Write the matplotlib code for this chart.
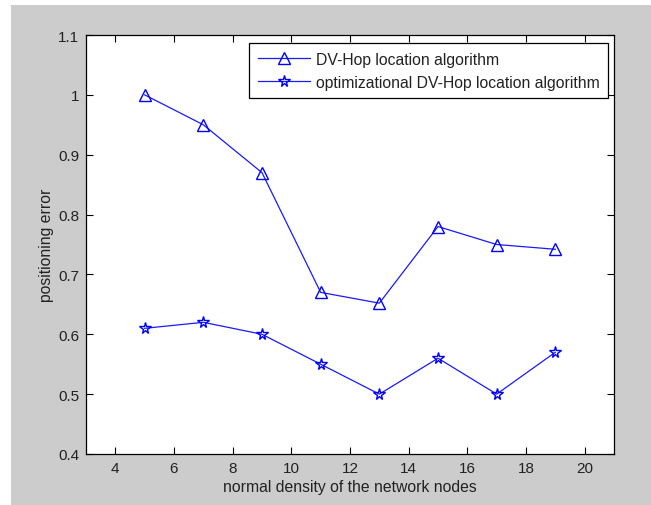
import numpy as np
import matplotlib.pyplot as plt
from matplotlib.patches import Rectangle

plt.rcParams['font.family'] = ['Liberation Sans', 'DejaVu Sans']

density = [5, 7, 9, 11, 13, 15, 17, 19]
dv_hop = [1.00, 0.95, 0.87, 0.67, 0.652, 0.78, 0.75, 0.742]
opt_dv_hop = [0.61, 0.62, 0.60, 0.55, 0.50, 0.56, 0.50, 0.57]
xticks = [4, 6, 8, 10, 12, 14, 16, 18, 20]
yticks = [0.4, 0.5, 0.6, 0.7, 0.8, 0.9, 1.0, 1.1]
ytick_labels = ['0.4', '0.5', '0.6', '0.7', '0.8', '0.9', '1', '1.1']

W, H = 651, 506
fig = plt.figure(figsize=(W / 100, H / 100), dpi=100, facecolor='white')
# matlab style gray figure area (small white margin top/left)
fig.patches.append(Rectangle((11 / W, 0), 1 - 11 / W, 1 - 6 / H,
                             transform=fig.transFigure, facecolor='#cccccc',
                             edgecolor='none', zorder=-5))

ax = fig.add_axes([86 / W, (H - 455) / H, (614 - 86) / W, (455 - 36) / H])
ax.plot(density, dv_hop, color='#1a1aff', lw=0.9, marker='^', ms=8.5,
        mfc='none', mec='#0000ff', mew=1.0,
        label='DV-Hop location algorithm')
ax.plot(density, opt_dv_hop, color='#1a1aff', lw=0.9, marker='*', ms=8.5,
        mfc='none', mec='#0000ff', mew=1.0,
        label='optimizational DV-Hop location algorithm')

ax.set_xlim(3, 21)
ax.set_ylim(0.4, 1.1)
ax.set_xticks(xticks)
ax.set_yticks(yticks)
ax.set_yticklabels(ytick_labels)
ax.tick_params(direction='in', top=True, right=True, length=5, width=0.8,
               labelsize=11, labelcolor='#222222', pad=5)
for s in ax.spines.values():
    s.set_linewidth(0.9)

ax.set_xlabel('normal density of the network nodes', fontsize=11.3,
              color='#222222', labelpad=3)
ax.set_ylabel('positioning error', fontsize=11.3, color='#222222', labelpad=3)

leg = ax.legend(loc='upper right', bbox_to_anchor=(0.989, 0.981),
                borderaxespad=0, fancybox=False, shadow=False,
                edgecolor='black', fontsize=11.3, handlelength=3.3,
                handletextpad=0.4, borderpad=0.55, labelspacing=0.52,
                framealpha=1)
leg.get_frame().set_linewidth(0.9)
for t in leg.get_texts():
    t.set_color('#222222')

fig.savefig('out.png', dpi=100, facecolor=fig.get_facecolor())
